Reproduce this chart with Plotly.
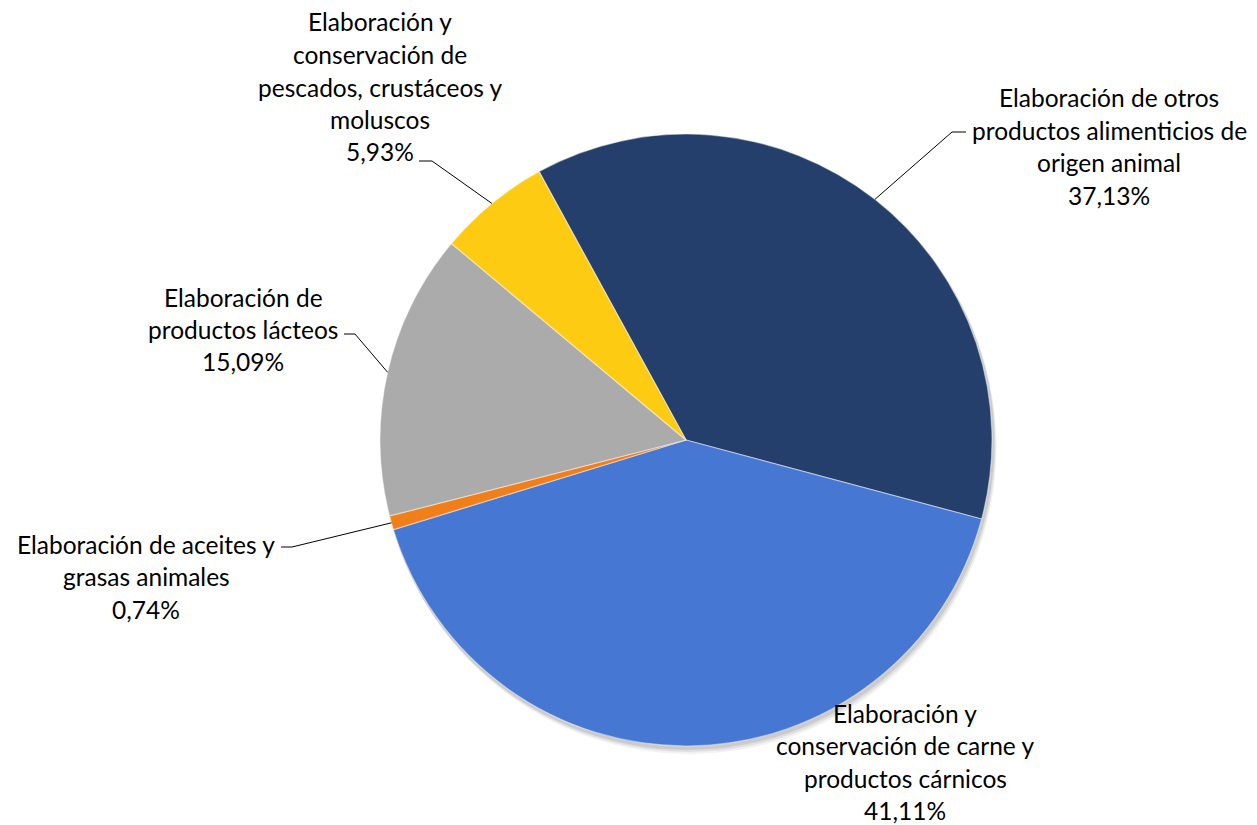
import math
import plotly.graph_objects as go

W, H = 1257, 825

# ---- data ----
categories = [
    "Elaboración de otros productos alimenticios de origen animal",
    "Elaboración y conservación de carne y productos cárnicos",
    "Elaboración de aceites y grasas animales",
    "Elaboración de productos lácteos",
    "Elaboración y conservación de pescados, crustáceos y moluscos",
]
values = [37.13, 41.11, 0.74, 15.09, 5.93]
value_labels = ["37,13%", "41,11%", "0,74%", "15,09%", "5,93%"]
label_lines = [
    ["Elaboración de otros", "productos alimenticios de", "origen animal"],
    ["Elaboración y", "conservación de carne y", "productos cárnicos"],
    ["Elaboración de aceites y", "grasas animales"],
    ["Elaboración de", "productos lácteos"],
    ["Elaboración y", "conservación de", "pescados, crustáceos y", "moluscos"],
]
colors = ["#243F6B", "#4677D3", "#F07F1A", "#ABABAB", "#FDCB12"]

# ---- layout parameters (pixels) ----
CX, CY, R = 686, 440, 306
ROTATION = -28.7
FONT = "Lato"
FS = 24.5
LINE_H = 32.5
# label block centre x and first-line y
label_pos = [(1109, 98), (905, 713), (146, 544), (243, 297), (380, 22)]
# leader: point where horizontal tick starts (near text) and where it bends
leaders = [((966, 132), (952, 132)), None, ((281, 547), (292, 547)),
           ((344, 334), (355, 334)), ((419, 161), (432, 161))]


def px(x):
    return x / W


def py(y):
    return 1 - y / H


def domain(cx, cy, r):
    return dict(x=[px(cx - r), px(cx + r)], y=[py(cy + r), py(cy - r)])


fig = go.Figure()

# soft shadow
for off, a in [(7, 0.05), (5, 0.07), (3, 0.09)]:
    fig.add_trace(go.Pie(
        values=[1], labels=["shadow"], sort=False, textinfo="none",
        hoverinfo="skip", showlegend=False,
        marker=dict(colors=[f"rgba(0,0,0,{a})"], line=dict(width=0)),
        domain=domain(CX + off * 0.5, CY + off, R + 1),
    ))

fig.add_trace(go.Pie(
    labels=categories, values=values, sort=False, direction="clockwise",
    rotation=ROTATION, textinfo="none", showlegend=False,
    marker=dict(colors=colors, line=dict(color="rgba(255,255,255,0.45)", width=1.2)),
    domain=domain(CX, CY, R),
))

annotations = []
shapes = []
total = sum(values)
start = ROTATION
for i, v in enumerate(values):
    span = v / total * 360
    mid = math.radians(start + span / 2)
    start += span
    ex = CX + R * math.sin(mid)
    ey = CY - R * math.cos(mid)
    lx, ly = label_pos[i]
    lines = label_lines[i] + [value_labels[i]]
    for k, t in enumerate(lines):
        annotations.append(dict(
            x=px(lx), y=py(ly + k * LINE_H), xref="paper", yref="paper",
            text=t, showarrow=False, xanchor="center", yanchor="middle",
            font=dict(family=FONT, size=FS, color="#000000"),
        ))
    if leaders[i] is not None:
        (x0, y0), (x1, y1) = leaders[i]
        shapes.append(dict(type="line", xref="paper", yref="paper",
                           x0=px(x0), y0=py(y0), x1=px(x1), y1=py(y1),
                           line=dict(color="#000000", width=1)))
        shapes.append(dict(type="line", xref="paper", yref="paper",
                           x0=px(x1), y0=py(y1), x1=px(ex), y1=py(ey),
                           line=dict(color="#000000", width=1)))

fig.update_layout(
    width=W, height=H, margin=dict(l=0, r=0, t=0, b=0),
    paper_bgcolor="white", plot_bgcolor="white",
    annotations=annotations, shapes=shapes,
)

fig.write_html("out.html", config={"displayModeBar": False},
               post_script="document.body.style.margin='0';document.body.style.overflow='hidden';")
